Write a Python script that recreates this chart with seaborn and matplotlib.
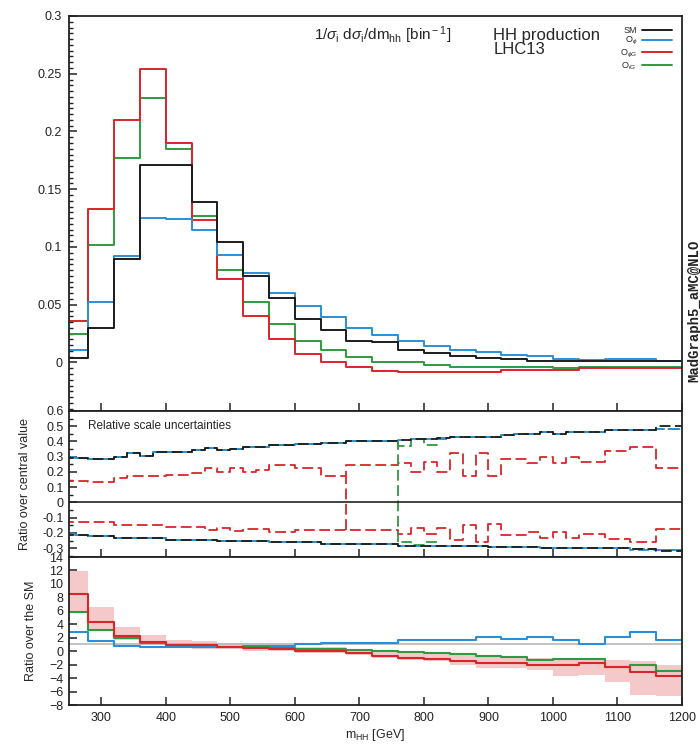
import numpy as np
import pandas as pd
import matplotlib
matplotlib.use("Agg")
import matplotlib.pyplot as plt
from matplotlib.ticker import MultipleLocator, FuncFormatter
import seaborn as sns

# ---------------- binning ----------------
edges_40 = np.arange(240, 1201, 40)   # distributions and ratios to the SM
edges_20 = np.arange(240, 1201, 20)   # relative scale uncertainties

series = ["SM", "Ophi", "OphiG", "OtG"]
labels = {"SM": "SM", "Ophi": r"O$_{\phi}$", "OphiG": r"O$_{\phi G}$", "OtG": r"O$_{tG}$"}
colors = {"SM": "#1c1c1c", "Ophi": "#2a8fd6", "OphiG": "#d8262a", "OtG": "#2f9a40"}

# ---------------- 1/sigma dsigma/dm_hh ----------------
dist_sm = [0.004, 0.0295, 0.0896, 0.171, 0.171, 0.1387, 0.104, 0.0745, 0.056, 0.0376,
           0.028, 0.0188, 0.0173, 0.0107, 0.0084, 0.0052, 0.004, 0.0026, 0.0015, 0.0015,
           0.0015, 0.001, 0.001, 0.001]
dist_ophi = [0.0107, 0.052, 0.0919, 0.125, 0.1243, 0.115, 0.0933, 0.0771, 0.0598, 0.0485,
             0.039, 0.0295, 0.024, 0.0188, 0.0139, 0.0104, 0.009, 0.0069, 0.0052, 0.0032,
             0.0023, 0.003, 0.003, 0.001]
dist_ophig = [0.036, 0.133, 0.210, 0.254, 0.190, 0.1236, 0.072, 0.040, 0.0203, 0.0075,
              0.0006, -0.0035, -0.007, -0.008, -0.008, -0.008, -0.008, -0.0063, -0.0063,
              -0.0063, -0.005, -0.005, -0.005, -0.005]
dist_otg = [0.0243, 0.1014, 0.1774, 0.229, 0.185, 0.127, 0.0803, 0.052, 0.0335, 0.0188,
            0.011, 0.0045, 0.0003, 0.0, -0.002, -0.0035, -0.0035, -0.004, -0.004, -0.0045,
            -0.0035, -0.0035, -0.0035, -0.0035]

# ---------------- relative scale uncertainties (20 GeV bins) ----------------
unc_sm_up = [0.29, 0.29, 0.283, 0.283, 0.30, 0.322, 0.305, 0.333, 0.333, 0.333,
             0.344, 0.355, 0.344, 0.35, 0.361, 0.366, 0.374, 0.374, 0.383, 0.383,
             0.387, 0.387, 0.40, 0.40, 0.405, 0.405, 0.41, 0.417, 0.417, 0.423,
             0.43, 0.43, 0.43, 0.43, 0.445, 0.45, 0.45, 0.463, 0.45, 0.463,
             0.463, 0.463, 0.474, 0.474, 0.478, 0.478, 0.50, 0.50]
unc_sm_dn = [-0.214, -0.214, -0.217, -0.217, -0.236, -0.236, -0.236, -0.236, -0.247, -0.247,
             -0.247, -0.247, -0.256, -0.256, -0.256, -0.256, -0.262, -0.262, -0.262, -0.262,
             -0.273, -0.273, -0.273, -0.273, -0.273, -0.273, -0.284, -0.284, -0.284, -0.284,
             -0.284, -0.284, -0.284, -0.295, -0.295, -0.295, -0.295, -0.30, -0.30, -0.30,
             -0.30, -0.30, -0.30, -0.30, -0.305, -0.305, -0.316, -0.316]
unc_ophi_up = [0.295, 0.29, 0.283, 0.283, 0.30, 0.322, 0.305, 0.333, 0.333, 0.333,
               0.344, 0.355, 0.344, 0.35, 0.361, 0.366, 0.374, 0.374, 0.383, 0.383,
               0.387, 0.387, 0.40, 0.40, 0.405, 0.405, 0.41, 0.417, 0.417, 0.423,
               0.43, 0.43, 0.43, 0.43, 0.445, 0.45, 0.45, 0.463, 0.45, 0.463,
               0.463, 0.463, 0.474, 0.474, 0.478, 0.478, 0.484, 0.484]
unc_ophi_dn = [-0.21, -0.214, -0.217, -0.217, -0.236, -0.236, -0.236, -0.236, -0.247, -0.247,
               -0.247, -0.247, -0.256, -0.256, -0.256, -0.256, -0.262, -0.262, -0.262, -0.262,
               -0.273, -0.273, -0.273, -0.273, -0.273, -0.273, -0.284, -0.284, -0.284, -0.284,
               -0.284, -0.284, -0.284, -0.295, -0.295, -0.295, -0.295, -0.30, -0.30, -0.30,
               -0.30, -0.30, -0.30, -0.30, -0.31, -0.31, -0.31, -0.31]
unc_ophig_up = [0.138, 0.138, 0.132, 0.132, 0.16, 0.175, 0.175, 0.175, 0.182, 0.182,
                0.192, 0.225, 0.197, 0.225, 0.203, 0.21, 0.244, 0.244, 0.225, 0.225,
                0.171, 0.171, 0.244, 0.244, 0.244, 0.244, 0.257, 0.197, 0.268, 0.197,
                0.322, 0.175, 0.322, 0.175, 0.286, 0.286, 0.257, 0.30, 0.257, 0.30,
                0.268, 0.268, 0.338, 0.338, 0.361, 0.361, 0.225, 0.225]
unc_ophig_dn = [-0.128, -0.128, -0.125, -0.125, -0.149, -0.149, -0.149, -0.149, -0.158, -0.158,
                -0.158, -0.18, -0.165, -0.186, -0.175, -0.171, -0.193, -0.193, -0.182, -0.182,
                -0.182, -0.182, -0.182, -0.182, -0.182, -0.182, -0.208, -0.165, -0.204, -0.165,
                -0.245, -0.15, -0.262, -0.143, -0.214, -0.214, -0.193, -0.23, -0.197, -0.23,
                -0.208, -0.208, -0.24, -0.24, -0.262, -0.262, -0.175, -0.175]
unc_otg_up = [0.29, 0.29, 0.283, 0.283, 0.30, 0.322, 0.305, 0.333, 0.333, 0.333,
              0.344, 0.355, 0.344, 0.35, 0.361, 0.366, 0.374, 0.374, 0.383, 0.383,
              0.387, 0.387, 0.40, 0.40, 0.405, 0.405, 0.37, 0.417, 0.375, 0.417,
              0.43, 0.43, 0.43, 0.43, 0.445, 0.45, 0.45, 0.463, 0.45, 0.463,
              0.463, 0.463, 0.474, 0.474, 0.478, 0.478, 0.484, 0.484]
unc_otg_dn = [-0.214, -0.214, -0.217, -0.217, -0.236, -0.236, -0.236, -0.236, -0.247, -0.247,
              -0.247, -0.247, -0.256, -0.256, -0.256, -0.256, -0.262, -0.262, -0.262, -0.262,
              -0.273, -0.273, -0.273, -0.273, -0.273, -0.273, -0.262, -0.28, -0.262, -0.284,
              -0.284, -0.284, -0.284, -0.295, -0.295, -0.295, -0.295, -0.30, -0.30, -0.30,
              -0.30, -0.30, -0.30, -0.30, -0.305, -0.305, -0.31, -0.31]
# bin edges where the upper and lower uncertainty curves are joined
ophig_join_edge = 680
otg_join_edge = 760

# ---------------- ratio over the SM ----------------
ratio_ophi = [2.81, 1.58, 0.84, 0.68, 0.68, 0.68, 0.6, 0.8, 0.8, 1.06, 1.28, 1.28,
              1.28, 1.67, 1.67, 1.67, 2.07, 1.8, 2.07, 1.67, 1.1, 2.07, 2.9, 1.67]
ratio_ophig = [8.5, 4.4, 2.3, 1.42, 0.93, 0.85, 0.68, 0.49, 0.34, 0.1, 0.0, -0.3,
               -0.7, -0.94, -1.19, -1.44, -1.78, -1.78, -2.03, -2.03, -1.78, -2.37, -3.16, -3.66]
ratio_otg = [5.78, 3.16, 1.92, 1.18, 0.93, 0.85, 0.69, 0.6, 0.44, 0.35, 0.3, 0.19,
             0.04, -0.05, -0.2, -0.45, -0.7, -0.9, -1.28, -1.1, -1.1, -2.28, -2.03, -2.87]
band_ophig_hi = [11.85, 6.52, 3.55, 2.41, 1.72, 1.48, 1.18, 0.93, 0.7, 0.6, 0.68, 0.4,
                 0.2, -0.05, -0.2, -0.3, -0.7, -0.9, -1.04, -1.19, -1.19, -1.28, -1.53, -2.03]
band_ophig_lo = [5.8, 3.2, 1.6, 0.93, 0.6, 0.35, 0.35, 0.1, 0.0, -0.2, -0.3, -0.5,
                 -1.0, -1.3, -1.53, -2.03, -2.52, -2.52, -2.77, -3.76, -3.51, -4.64, -6.47, -6.72]

# ---------------- style ----------------
sns.set_theme(style="ticks")
plt.rcParams.update({
    "font.family": ["Liberation Sans", "DejaVu Sans"],
    "mathtext.fontset": "custom",
    "mathtext.rm": "Liberation Sans",
    "mathtext.it": "Liberation Sans:italic",
    "mathtext.bf": "Liberation Sans:bold",
    "axes.linewidth": 1.3,
    "axes.edgecolor": "#222222",
    "xtick.direction": "in",
    "ytick.direction": "in",
    "xtick.major.size": 6,
    "ytick.major.size": 6,
    "ytick.minor.size": 3,
    "xtick.major.width": 1.1,
    "ytick.major.width": 1.1,
    "ytick.minor.width": 1.0,
    "xtick.labelsize": 9,
    "ytick.labelsize": 9,
    "xtick.color": "#222222",
    "ytick.color": "#222222",
})


def steps(edges, values):
    return pd.DataFrame({"x": edges, "y": np.append(values, values[-1])})


def draw_step(ax, edges, values, color, **kw):
    d = steps(edges, values)
    sns.lineplot(data=d, x="x", y="y", ax=ax, color=color, drawstyle="steps-post",
                 estimator=None, sort=False, **kw)


fig = plt.figure(figsize=(7.0, 7.44), dpi=100)
left, width = 0.0986, 0.8757
ax_top = fig.add_axes([left, 0.4476, width, 0.5309])
ax_mid = fig.add_axes([left, 0.2513, width, 0.1963])
ax_bot = fig.add_axes([left, 0.0524, width, 0.1989])

fmt = FuncFormatter(lambda v, p: "%g" % round(v, 3))

# ---------------- top panel ----------------
dists = {"SM": dist_sm, "Ophi": dist_ophi, "OphiG": dist_ophig, "OtG": dist_otg}
for key in ["OtG", "OphiG", "Ophi", "SM"]:
    draw_step(ax_top, edges_40, dists[key], colors[key], lw=1.4, label=labels[key])
ax_top.set_xlim(250, 1200)
ax_top.set_ylim(-0.042, 0.3)
ax_top.yaxis.set_major_locator(MultipleLocator(0.05))
ax_top.yaxis.set_minor_locator(MultipleLocator(0.005))
ax_top.yaxis.set_major_formatter(fmt)
ax_top.xaxis.set_major_locator(MultipleLocator(100))
ax_top.tick_params(axis="x", labelbottom=False)
ax_top.tick_params(axis="y", pad=5)

handles, labs = ax_top.get_legend_handles_labels()
order = [labels[k] for k in series]
hmap = dict(zip(labs, handles))
ax_top.legend([hmap[l] for l in order], order, loc="upper right", frameon=False,
              markerfirst=False, fontsize=6.5, handlelength=3.3, handletextpad=0.6,
              labelspacing=0.05, borderaxespad=0, borderpad=0,
              bbox_to_anchor=(0.984, 0.975))

ax_top.text(0.400, 0.952, r"1/$\sigma_{\rm i}$ d$\sigma_{\rm i}$/dm$_{\rm hh}$ [bin$^{\rm -1}$]",
            transform=ax_top.transAxes, fontsize=11, ha="left", va="center")
ax_top.text(0.692, 0.950, "HH production", transform=ax_top.transAxes,
            fontsize=12, ha="left", va="center")
ax_top.text(0.692, 0.915, "LHC13", transform=ax_top.transAxes,
            fontsize=12, ha="left", va="center", linespacing=1)

# ---------------- middle panel ----------------
dash = (6, 2.5)
unc = {"SM": (unc_sm_up, unc_sm_dn), "Ophi": (unc_ophi_up, unc_ophi_dn),
       "OphiG": (unc_ophig_up, unc_ophig_dn), "OtG": (unc_otg_up, unc_otg_dn)}
offsets = {"SM": 0, "Ophi": 4.2, "OphiG": 0, "OtG": 2.0}
for key in ["OtG", "Ophi", "SM", "OphiG"]:
    up, dn = unc[key]
    for vals in (up, dn):
        draw_step(ax_mid, edges_20, vals, colors[key], lw=1.3,
                  linestyle=(offsets[key], dash))
for key, xj in (("OphiG", ophig_join_edge), ("OtG", otg_join_edge)):
    up, dn = unc[key]
    i = int(np.searchsorted(edges_20, xj))
    ax_mid.vlines(xj, dn[i], up[i - 1], colors=colors[key], lw=1.3,
                  linestyles=[(0, dash)])
ax_mid.axhline(0, color="#222222", lw=1.2)
ax_mid.set_xlim(250, 1200)
ax_mid.set_ylim(-0.358, 0.6)
ax_mid.yaxis.set_major_locator(MultipleLocator(0.1))
ax_mid.yaxis.set_minor_locator(MultipleLocator(0.05))
ax_mid.yaxis.set_major_formatter(fmt)
ax_mid.xaxis.set_major_locator(MultipleLocator(100))
ax_mid.tick_params(axis="x", labelbottom=False)
ax_mid.tick_params(axis="y", pad=4)
ax_mid.set_xlabel("")
ax_mid.set_ylabel("Ratio over central value", fontsize=9, labelpad=4)
ax_mid.text(0.031, 0.90, "Relative scale uncertainties", transform=ax_mid.transAxes,
            fontsize=8.5, ha="left", va="center")

# ---------------- bottom panel ----------------
ax_bot.fill_between(edges_40, np.append(band_ophig_lo, band_ophig_lo[-1]),
                    np.append(band_ophig_hi, band_ophig_hi[-1]), step="post",
                    color="#f5c9c9", lw=0, zorder=1)
ax_bot.axhline(1, color="#b8b8b8", lw=1.2, zorder=1.5)
ratios = {"Ophi": ratio_ophi, "OtG": ratio_otg, "OphiG": ratio_ophig}
for key in ["Ophi", "OtG", "OphiG"]:
    draw_step(ax_bot, edges_40, ratios[key], colors[key], lw=1.5)
ax_bot.set_xlim(250, 1200)
ax_bot.set_ylim(-8, 14)
ax_bot.yaxis.set_major_locator(MultipleLocator(2))
ax_bot.xaxis.set_major_locator(MultipleLocator(100))
ax_bot.tick_params(axis="y", pad=4)
ax_bot.tick_params(axis="x", pad=5)
ax_bot.set_xlabel(r"m$_{\rm HH}$ [GeV]", fontsize=9, labelpad=2)
ax_bot.set_ylabel("Ratio over the SM", fontsize=9, labelpad=6)

for ax in (ax_top, ax_mid, ax_bot):
    ax.tick_params(top=False, right=False)
    if ax is not ax_bot:
        ax.set_xlabel("")
    if ax is ax_top:
        ax.set_ylabel("")

ax_mid.yaxis.set_label_coords(-0.062, 0.5)
ax_bot.yaxis.set_label_coords(-0.053, 0.5)

fig.text(0.992, 0.582, "MadGraph5_aMC@NLO", rotation=90, ha="center", va="center",
         fontsize=10, family=["Liberation Mono", "DejaVu Sans Mono"], weight="bold",
         color="#222222")

fig.savefig("out.png", dpi=100)
